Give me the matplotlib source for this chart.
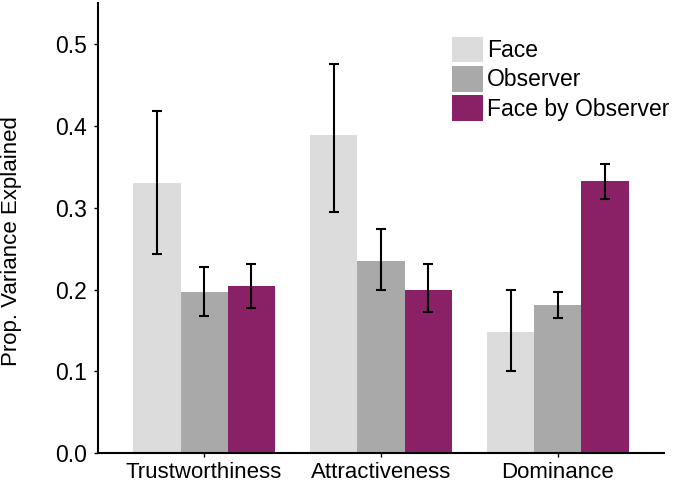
import matplotlib
matplotlib.use("Agg")
import matplotlib.pyplot as plt
import numpy as np

plt.rcParams['font.family'] = ['Liberation Sans', 'DejaVu Sans']

categories = ["Trustworthiness", "Attractiveness", "Dominance"]
series_names = ["Face", "Observer", "Face by Observer"]
face_vals = [0.330, 0.389, 0.148]
face_lo = [0.243, 0.295, 0.101]
face_hi = [0.418, 0.475, 0.200]
obs_vals = [0.197, 0.235, 0.181]
obs_lo = [0.168, 0.200, 0.165]
obs_hi = [0.227, 0.274, 0.197]
fxo_vals = [0.204, 0.200, 0.333]
fxo_lo = [0.177, 0.172, 0.311]
fxo_hi = [0.231, 0.231, 0.353]
yticks = [0.0, 0.1, 0.2, 0.3, 0.4, 0.5]

colors = ["#dcdcdc", "#a9a9a9", "#8a2167"]

fig = plt.figure(figsize=(6.77, 4.83), dpi=100)
ax = fig.add_axes([98/677, (483-453.3)/483, (664-98)/677, 450.3/483])

x = np.arange(len(categories))
w = 0.8/3
data = [(face_vals, face_lo, face_hi), (obs_vals, obs_lo, obs_hi), (fxo_vals, fxo_lo, fxo_hi)]
handles = []
for i, (vals, lo, hi) in enumerate(data):
    vals = np.array(vals); lo = np.array(lo); hi = np.array(hi)
    pos = x + (i - 1) * w
    b = ax.bar(pos, vals, width=w, color=colors[i], label=series_names[i], zorder=2)
    handles.append(b)
    ax.errorbar(pos, vals, yerr=[vals - lo, hi - vals], fmt='none', ecolor='black',
                elinewidth=1.5, capsize=3.5, capthick=1.5, zorder=3)

ax.set_xlim(-0.6, 2.6)
ax.set_ylim(0, 0.55)
ax.set_xticks(x)
ax.set_xticklabels(categories, fontsize=16)
ax.set_yticks(yticks)
ax.set_yticklabels([f"{t:.1f}" for t in yticks], fontsize=16.5)
for s in ['top', 'right']:
    ax.spines[s].set_visible(False)
for s in ['left', 'bottom']:
    ax.spines[s].set_linewidth(1.5)
ax.tick_params(axis='both', direction='out', length=3, width=1, pad=5)
ax.tick_params(axis='x', pad=3.5)
ax.set_ylabel("Prop. Variance Explained", fontsize=16)
ax.yaxis.set_label_coords(-0.135, 0.471)

fig.legend(handles=handles, labels=series_names, loc='upper left',
           bbox_to_anchor=(452.3/677, (483-36.7)/483), bbox_transform=fig.transFigure,
           frameon=False, fontsize=16.5, borderpad=0, borderaxespad=0,
           handlelength=1.35, handleheight=1.35, labelspacing=0.15, handletextpad=0.15)

fig.savefig("out.png", dpi=100)
